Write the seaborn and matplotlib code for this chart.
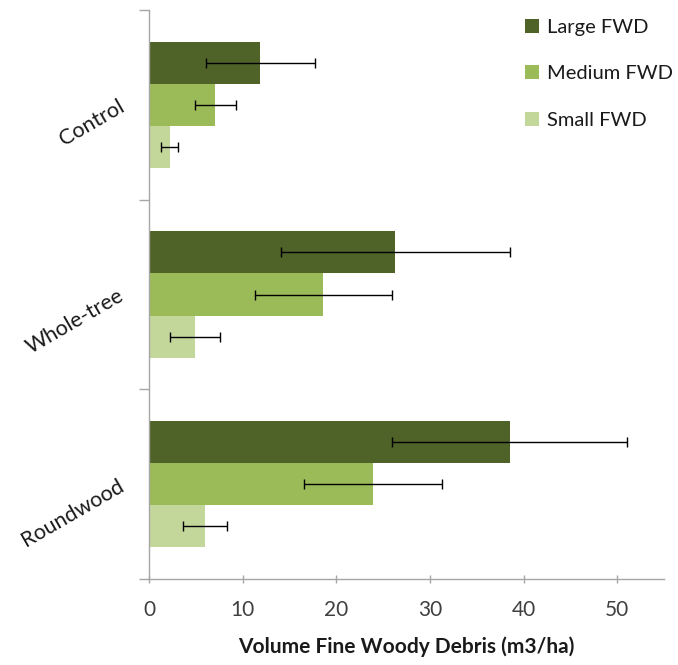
import matplotlib
matplotlib.use("Agg")
import matplotlib.pyplot as plt
import seaborn as sns
import pandas as pd
from matplotlib.patches import Patch

# Harvest treatments and fine woody debris volume (m3/ha) by size class
treatments = ["Control", "Whole-tree", "Roundwood"]
size_classes = ["Large FWD", "Medium FWD", "Small FWD"]
large = [11.9, 26.3, 38.5]
large_err = [5.8, 12.2, 12.6]
medium = [7.1, 18.6, 23.9]
medium_err = [2.2, 7.3, 7.4]
small = [2.2, 4.9, 6.0]
small_err = [0.9, 2.7, 2.35]
x_ticks = [0, 10, 20, 30, 40, 50]

colors = ["#4F6228", "#9BBB59", "#C4D79B"]

sns.set_theme(style="white")
plt.rcParams["font.family"] = ["Lato", "DejaVu Sans"]

values = [large, medium, small]
errors = [large_err, medium_err, small_err]
df = pd.DataFrame({
    "treatment": [t for _ in size_classes for t in treatments],
    "size": [s for s in size_classes for _ in treatments],
    "volume": [v for series in values for v in series],
})

fig = plt.figure(figsize=(6.78, 6.65), dpi=100)
ax = fig.add_axes([149 / 678, 1 - 579 / 665, 515 / 678, 569 / 665])

sns.barplot(data=df, x="volume", y="treatment", hue="size",
            order=treatments, hue_order=size_classes, palette=colors,
            orient="h", width=0.667, gap=0, errorbar=None,
            saturation=1, legend=False, ax=ax, linewidth=0)

# Standard error whiskers on each bar
for container, errs in zip(ax.containers, errors):
    for bar, e in zip(container, errs):
        y = bar.get_y() + bar.get_height() / 2
        ax.errorbar(bar.get_width(), y, xerr=e, fmt="none", ecolor="black",
                    elinewidth=1.0, capsize=3.5, capthick=1.0)

ax.set_xlim(0, 55)
ax.set_ylim(2.5, -0.5)
ax.set_xticks(x_ticks)
ax.set_xticklabels([str(t) for t in x_ticks], fontsize=15, color="#404040")
ax.set_yticks([-0.5, 0.5, 1.5, 2.5])
ax.set_yticklabels([])
ax.set_yticks([0, 1, 2], minor=True)
ax.set_yticklabels(treatments, minor=True, fontsize=15.5, rotation=30,
                   ha="right", va="center", rotation_mode="anchor",
                   color="#1a1a1a")
ax.tick_params(axis="y", which="major", length=7, width=1, color="#a6a6a6",
               left=True, direction="out")
ax.tick_params(axis="y", which="minor", length=0, pad=19)
ax.tick_params(axis="x", which="major", length=6, width=1, color="#a6a6a6",
               bottom=True, direction="inout", pad=12)

for side in ["top", "right"]:
    ax.spines[side].set_visible(False)
for side in ["left", "bottom"]:
    ax.spines[side].set_color("#a6a6a6")
    ax.spines[side].set_linewidth(1)

ax.set_ylabel("")
ax.set_xlabel("Volume Fine Woody Debris (m3/ha)", fontsize=15,
              fontweight="bold", labelpad=12, color="#1a1a1a")

handles = [Patch(facecolor=c, edgecolor="none") for c in colors]
fig.legend(handles, size_classes, loc="upper left",
           bbox_to_anchor=(515 / 678, 1 - 9 / 665), frameon=False,
           fontsize=14.5, handlelength=0.7, handleheight=0.7,
           handletextpad=0.4, labelspacing=1.45, borderpad=0,
           labelcolor="#1a1a1a")

fig.savefig("out.png", dpi=100, facecolor="white")
